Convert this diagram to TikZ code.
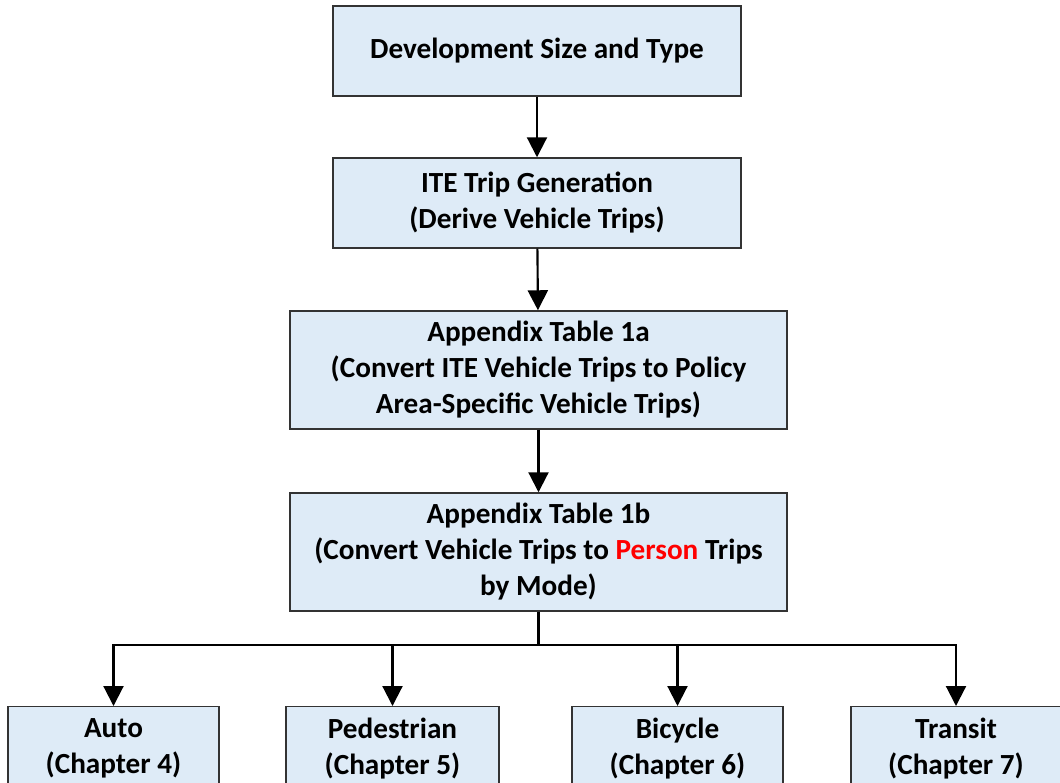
\documentclass[tikz,border=0pt]{standalone}
\usepackage{fontspec}
\setmainfont{Carlito}
\usetikzlibrary{arrows.meta}
\definecolor{boxfill}{HTML}{DEEBF7}
\definecolor{boxline}{HTML}{333333}
\definecolor{redword}{HTML}{FF0000}
\tikzset{
  x=0.75pt, y=-0.75pt,
  flowbox/.style={draw=boxline, line width=1.1pt, fill=boxfill, align=center, inner sep=0pt,
    font=\fontsize{21.9}{27}\selectfont\bfseries},
  conn/.style={line width=1.6pt, black},
  arr/.style={conn, -{Triangle[width=15pt,length=15pt]}}
}
\begin{document}
\begin{tikzpicture}
\useasboundingbox (0,0) rectangle (1060,782);
\node[flowbox, minimum width=408*0.75pt, minimum height=90*0.75pt] (b1) at (537,51) {Development Size and Type};
\node[flowbox, minimum width=408*0.75pt, minimum height=90*0.75pt] (b2) at (537,203) {ITE Trip Generation\\(Derive Vehicle Trips)};
\node[flowbox, minimum width=497*0.75pt, minimum height=118*0.75pt] (b3) at (538.5,370) {Appendix Table 1a\\(Convert ITE Vehicle Trips to Policy\\Area-Specific Vehicle Trips)};
\node[flowbox, minimum width=497*0.75pt, minimum height=118*0.75pt] (b4) at (538.5,552) {Appendix Table 1b\\(Convert Vehicle Trips to \textcolor{redword}{Person} Trips\\by Mode)};
\node[flowbox, anchor=north, minimum width=211*0.75pt, minimum height=84*0.75pt] (auto) at (113.5,706) {Auto\\(Chapter 4)};
\node[flowbox, anchor=north, minimum width=213*0.75pt, minimum height=84*0.75pt] (ped) at (392.5,706) {Pedestrian\\(Chapter 5)};
\node[flowbox, anchor=north, minimum width=211*0.75pt, minimum height=84*0.75pt] (bic) at (677.5,706) {Bicycle\\(Chapter 6)};
\node[flowbox, anchor=north, minimum width=210*0.75pt, minimum height=84*0.75pt] (tra) at (956,706) {Transit\\(Chapter 7)};
\coordinate (j) at (538.5,645);
\draw[arr] (b1) -- (b2);
\draw[arr] (b2) -- (b3);
\draw[arr] (b3) -- (b4);
\draw[conn] (b4) -- (j);
\draw[arr] (j) -| (auto);
\draw[arr] (j) -| (ped);
\draw[arr] (j) -| (bic);
\draw[arr] (j) -| (tra);
\end{tikzpicture}
\end{document}
